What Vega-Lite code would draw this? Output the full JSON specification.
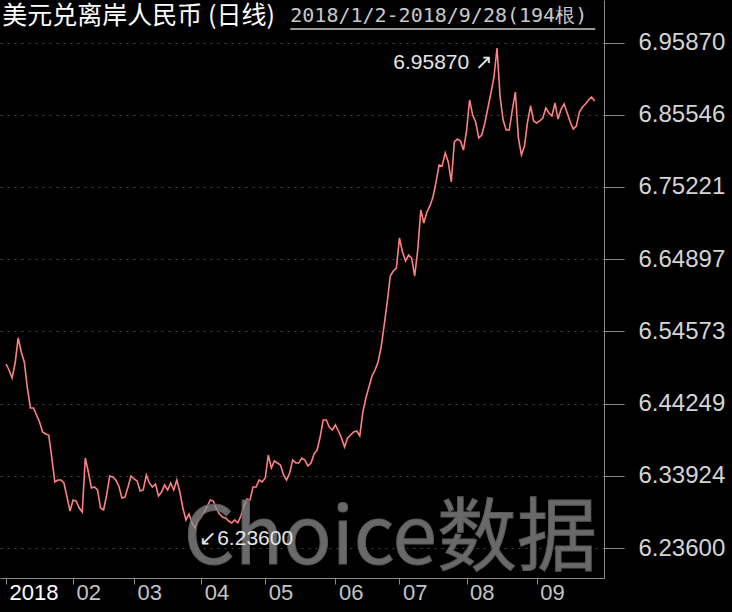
{
  "$schema": "https://vega.github.io/schema/vega-lite/v6.json",
  "width": 604,
  "height": 578,
  "padding": {"left": 0, "top": 0, "right": 128, "bottom": 34},
  "autosize": {"type": "none"},
  "background": "#000000",
  "config": {"view": {"stroke": null}},
  "resolve": {"axis": {"x": "independent", "y": "independent"}},
  "datasets": {
    "series": [
      {"i":0,"v":6.4991},{"i":1,"v":6.4905},{"i":2,"v":6.4791},{"i":3,"v":6.5005},{"i":4,"v":6.5363},{"i":5,"v":6.5162},{"i":6,"v":6.5019},{"i":7,"v":6.4648},{"i":8,"v":6.4362},{"i":9,"v":6.4362},
      {"i":10,"v":6.4262},{"i":11,"v":6.4162},{"i":12,"v":6.4019},{"i":13,"v":6.399},{"i":14,"v":6.3976},{"i":15,"v":6.3661},{"i":16,"v":6.3304},{"i":17,"v":6.3332},{"i":18,"v":6.3332},{"i":19,"v":6.329},
      {"i":20,"v":6.3089},{"i":21,"v":6.2889},{"i":22,"v":6.3047},{"i":23,"v":6.3032},{"i":24,"v":6.2932},{"i":25,"v":6.2875},{"i":26,"v":6.3647},{"i":27,"v":6.3447},{"i":28,"v":6.3218},{"i":29,"v":6.3232},
      {"i":30,"v":6.319},{"i":31,"v":6.2932},{"i":32,"v":6.2904},{"i":33,"v":6.3118},{"i":34,"v":6.339},{"i":35,"v":6.3375},{"i":36,"v":6.3332},{"i":37,"v":6.3247},{"i":38,"v":6.3075},{"i":39,"v":6.3089},
      {"i":40,"v":6.3232},{"i":41,"v":6.339},{"i":42,"v":6.3347},{"i":43,"v":6.3318},{"i":44,"v":6.3175},{"i":45,"v":6.319},{"i":46,"v":6.3404},{"i":47,"v":6.329},{"i":48,"v":6.3232},{"i":49,"v":6.3275},
      {"i":50,"v":6.3104},{"i":51,"v":6.3161},{"i":52,"v":6.3261},{"i":53,"v":6.319},{"i":54,"v":6.329},{"i":55,"v":6.319},{"i":56,"v":6.3332},{"i":57,"v":6.3161},{"i":58,"v":6.2932},{"i":59,"v":6.2761},
      {"i":60,"v":6.2846},{"i":61,"v":6.2718},{"i":62,"v":6.2646},{"i":63,"v":6.2746},{"i":64,"v":6.2804},{"i":65,"v":6.2875},{"i":66,"v":6.2961},{"i":67,"v":6.3047},{"i":68,"v":6.3032},{"i":69,"v":6.2918},
      {"i":70,"v":6.2846},{"i":71,"v":6.2804},{"i":72,"v":6.2789},{"i":73,"v":6.2746},{"i":74,"v":6.2718},{"i":75,"v":6.2761},{"i":76,"v":6.2718},{"i":77,"v":6.2818},{"i":78,"v":6.2961},{"i":79,"v":6.3061},
      {"i":80,"v":6.3047},{"i":81,"v":6.3232},{"i":82,"v":6.3232},{"i":83,"v":6.3332},{"i":84,"v":6.3304},{"i":85,"v":6.3361},{"i":86,"v":6.369},{"i":87,"v":6.3504},{"i":88,"v":6.3604},{"i":89,"v":6.3576},
      {"i":90,"v":6.3547},{"i":91,"v":6.3404},{"i":92,"v":6.3332},{"i":93,"v":6.3433},{"i":94,"v":6.3618},{"i":95,"v":6.3576},{"i":96,"v":6.3576},{"i":97,"v":6.3647},{"i":98,"v":6.3618},{"i":99,"v":6.3533},
      {"i":100,"v":6.3576},{"i":101,"v":6.3704},{"i":102,"v":6.3761},{"i":103,"v":6.3947},{"i":104,"v":6.419},{"i":105,"v":6.419},{"i":106,"v":6.409},{"i":107,"v":6.4047},{"i":108,"v":6.4119},{"i":109,"v":6.4033},
      {"i":110,"v":6.3933},{"i":111,"v":6.3804},{"i":112,"v":6.3933},{"i":113,"v":6.3976},{"i":114,"v":6.4019},{"i":115,"v":6.4033},{"i":116,"v":6.3962},{"i":117,"v":6.4305},{"i":118,"v":6.4505},{"i":119,"v":6.4662},
      {"i":120,"v":6.4819},{"i":121,"v":6.4905},{"i":122,"v":6.5019},{"i":123,"v":6.5234},{"i":124,"v":6.5548},{"i":125,"v":6.5877},{"i":126,"v":6.6249},{"i":127,"v":6.632},{"i":128,"v":6.6363},{"i":129,"v":6.6792},
      {"i":130,"v":6.6592},{"i":131,"v":6.6463},{"i":132,"v":6.6549},{"i":133,"v":6.6506},{"i":134,"v":6.6249},{"i":135,"v":6.6621},{"i":136,"v":6.7192},{"i":137,"v":6.7007},{"i":138,"v":6.7164},{"i":139,"v":6.725},
      {"i":140,"v":6.7378},{"i":141,"v":6.7593},{"i":142,"v":6.7836},{"i":143,"v":6.7821},{"i":144,"v":6.8007},{"i":145,"v":6.7879},{"i":146,"v":6.7593},{"i":147,"v":6.8165},{"i":148,"v":6.8207},{"i":149,"v":6.8179},
      {"i":150,"v":6.805},{"i":151,"v":6.8322},{"i":152,"v":6.8765},{"i":153,"v":6.8551},{"i":154,"v":6.845},{"i":155,"v":6.8222},{"i":156,"v":6.8265},{"i":157,"v":6.8436},{"i":158,"v":6.8651},{"i":159,"v":6.8865},
      {"i":160,"v":6.9094},{"i":161,"v":6.9508},{"i":162,"v":6.8808},{"i":163,"v":6.8479},{"i":164,"v":6.8336},{"i":165,"v":6.8336},{"i":166,"v":6.8622},{"i":167,"v":6.8879},{"i":168,"v":6.8222},{"i":169,"v":6.7979},
      {"i":170,"v":6.8107},{"i":171,"v":6.845},{"i":172,"v":6.8679},{"i":173,"v":6.8465},{"i":174,"v":6.8436},{"i":175,"v":6.8465},{"i":176,"v":6.8508},{"i":177,"v":6.8651},{"i":178,"v":6.8579},{"i":179,"v":6.8536},
      {"i":180,"v":6.8722},{"i":181,"v":6.8493},{"i":182,"v":6.8636},{"i":183,"v":6.8708},{"i":184,"v":6.8579},{"i":185,"v":6.845},{"i":186,"v":6.835},{"i":187,"v":6.8393},{"i":188,"v":6.8593},{"i":189,"v":6.8665},
      {"i":190,"v":6.8708},{"i":191,"v":6.8765},{"i":192,"v":6.8808},{"i":193,"v":6.8751}
    ],
    "noteMax": [{"i":161,"v":6.9587,"label":"6.95870 ↗"}],
    "noteMin": [{"i":64,"v":6.236,"label":"↙6.23600"}],
    "watermark": [{"i":126,"v":6.2475,"text":"Choice数据"}],
    "headName": [{"i":-1.2,"v":6.9966,"text":"美元兑离岸人民币 (日线)"}],
    "headRange": [{"i":93.2,"v":6.9966,"text":"2018/1/2-2018/9/28(194根)"}],
    "underline": [{"i":93.2,"i2":193.2,"v":6.978}]
  },
  "layer": [
    {
      "data": {"name": "series"},
      "mark": {"type": "line", "color": "#ff8080", "strokeWidth": 1.6},
      "encoding": {
        "x": {
          "field": "i", "type": "quantitative",
          "scale": {"domain": [-1.967, 196.07], "nice": false, "zero": false},
          "axis": {
            "values": [0, 22, 42, 64, 85, 108, 129, 151, 174],
            "labelExpr": "['2018','02','03','04','05','06','07','08','09'][indexof([0,22,42,64,85,108,129,151,174], datum.value)]",
            "title": null, "grid": false,
            "domainColor": "#8a8a8a", "tickColor": "#8a8a8a", "tickSize": 6,
            "labelAlign": "left", "labelBaseline": "top", "labelPadding": -2, "labelOffset": 3,
            "labelFont": "Liberation Sans", "labelFontSize": 22,
            "labelColor": {"condition": {"test": "datum.value == 0", "value": "#ffffff"}, "value": "#c4c4c4"},
            "labelFlush": false, "labelOverlap": false
          }
        },
        "y": {
          "field": "v", "type": "quantitative",
          "scale": {"domain": [6.19315, 7.01946], "nice": false, "zero": false},
          "axis": {
            "orient": "right",
            "values": [6.236, 6.33924, 6.44249, 6.54573, 6.64897, 6.75221, 6.85546, 6.9587],
            "format": ".5f", "title": null,
            "grid": true, "gridColor": "#454545", "gridDash": [2, 5],
            "domainColor": "#8a8a8a", "tickColor": "#8a8a8a", "tickSize": 20, "labelPadding": 14,
            "labelFont": "Liberation Sans", "labelFontSize": 24, "labelColor": "#d4d4d4",
            "labelOverlap": false, "labelFlush": false
          }
        }
      }
    },
    {
      "data": {"name": "watermark"},
      "mark": {"type": "text", "align": "center", "baseline": "middle", "font": "Noto Sans CJK SC", "fontSize": 80, "fill": "#8c8c8c", "fillOpacity": 0.75, "stroke": "#5a5a5a", "strokeWidth": 1},
      "encoding": {
        "x": {"field": "i", "type": "quantitative", "axis": null},
        "y": {"field": "v", "type": "quantitative", "axis": null},
        "text": {"field": "text"}
      }
    },
    {
      "data": {"name": "noteMax"},
      "mark": {"type": "text", "font": "Liberation Sans", "fontSize": 21, "fill": "#e6e6e6", "align": "right", "baseline": "middle", "dx": -4, "dy": 20},
      "encoding": {
        "x": {"field": "i", "type": "quantitative", "axis": null},
        "y": {"field": "v", "type": "quantitative", "axis": null},
        "text": {"field": "label"}
      }
    },
    {
      "data": {"name": "noteMin"},
      "mark": {"type": "text", "font": "Liberation Sans", "fontSize": 21, "fill": "#e6e6e6", "align": "left", "baseline": "middle", "dx": -2, "dy": -9},
      "encoding": {
        "x": {"field": "i", "type": "quantitative", "axis": null},
        "y": {"field": "v", "type": "quantitative", "axis": null},
        "text": {"field": "label"}
      }
    },
    {
      "data": {"name": "headName"},
      "mark": {"type": "text", "align": "left", "baseline": "middle", "font": "Noto Sans CJK SC", "fontSize": 25, "fill": "#ffffff"},
      "encoding": {
        "x": {"field": "i", "type": "quantitative", "axis": null},
        "y": {"field": "v", "type": "quantitative", "axis": null},
        "text": {"field": "text"}
      }
    },
    {
      "data": {"name": "headRange"},
      "mark": {"type": "text", "align": "left", "baseline": "middle", "font": "DejaVu Sans Mono", "fontSize": 20, "fill": "#c8c8c8"},
      "encoding": {
        "x": {"field": "i", "type": "quantitative", "axis": null},
        "y": {"field": "v", "type": "quantitative", "axis": null},
        "text": {"field": "text"}
      }
    },
    {
      "data": {"name": "underline"},
      "mark": {"type": "rule", "color": "#c8c8c8", "strokeWidth": 1.5},
      "encoding": {
        "x": {"field": "i", "type": "quantitative", "axis": null},
        "x2": {"field": "i2"},
        "y": {"field": "v", "type": "quantitative", "axis": null}
      }
    }
  ]
}
